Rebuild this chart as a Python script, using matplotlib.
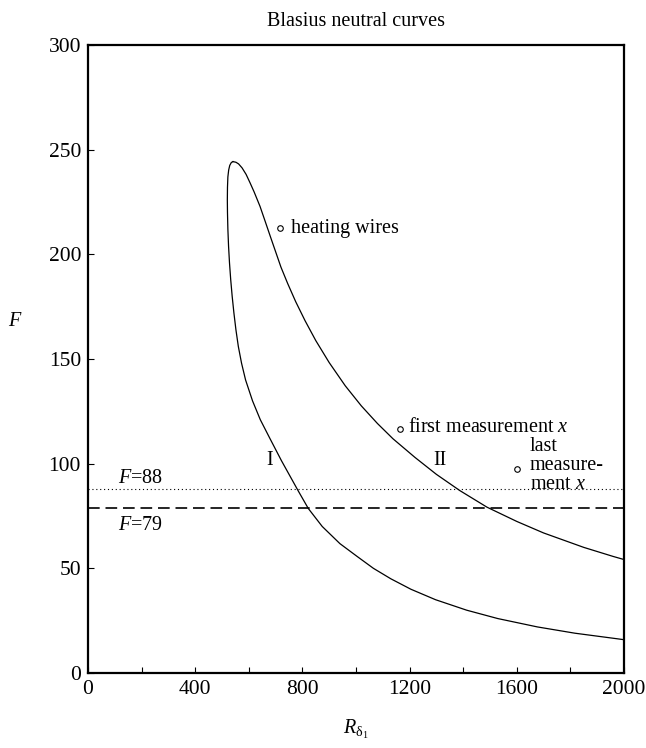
import numpy as np
import matplotlib
matplotlib.use('Agg')
import matplotlib.pyplot as plt

# haara I (alempi): huipusta kärjen kautta alas R=2000 asti
ala_R = [541, 535, 529, 525, 522, 520.5, 520, 520.5, 522, 524.5, 528, 532.5, 538,
         544.5, 552, 561, 573, 588, 614, 643, 679, 722, 784, 822, 874, 940, 1004,
         1065, 1130, 1205, 1297, 1413, 1529, 1677, 1817, 1977, 2000]
ala_F = [244.3, 243.9, 242.5, 240.3, 237, 232, 226, 220, 212, 204, 196, 188, 180,
         172, 164, 156, 148, 140, 130, 121, 112, 101.4, 87.1, 78.6, 70, 61.8, 55.7,
         50, 45, 40, 35, 30, 26, 22, 19, 16.3, 15.9]
# haara II (ylempi): huipusta R=2000 asti
yla_R = [541, 552, 562, 575, 590, 605, 620, 642, 660, 680, 700, 720, 745, 775,
         810, 850, 900, 960, 1020, 1080, 1138, 1220, 1300, 1388, 1489, 1600, 1700,
         1850, 1959, 2000]
yla_F = [244.3, 244.0, 243.2, 241.3, 238.2, 234.1, 229.8, 222.9, 216.2, 208.7,
         201.3, 193.9, 186.1, 177.4, 168.3, 158.8, 148.3, 137.2, 127.6, 119.2,
         111.9, 103, 94.9, 87.1, 79.2, 72.4, 66.9, 60, 55.7, 54.2]

# mittauspisteet
pisteet_R = [716, 1164, 1601]
pisteet_F = [212.4, 116.7, 97.6]
pisteet_nimet = ['heating wires', 'first measurement $x$', 'last\nmeasure-\nment $x$']

taajuudet = [88, 79]
xtikit = np.arange(0, 2001, 200)
ytikit = np.arange(0, 301, 50)

plt.rcParams.update({
    'font.family': ['Liberation Serif', 'DejaVu Serif'],
    'font.size': 14.5,
    'mathtext.fontset': 'custom',
    'mathtext.rm': 'Liberation Serif',
    'mathtext.it': 'Liberation Serif:italic',
    'mathtext.bf': 'Liberation Serif:bold',
})

fig = plt.figure(figsize=(6.46, 7.48), dpi=100)
ax = fig.add_axes([0.1362, 0.1003, 0.8297, 0.8395])

ax.plot(ala_R, ala_F, color='k', lw=0.9)
ax.plot(yla_R, yla_F, color='k', lw=0.9)

ax.axhline(taajuudet[0], color='k', lw=0.8, linestyle=(0, (1, 2.5)))
ax.axhline(taajuudet[1], color='k', lw=1.2, linestyle=(0, (7, 3.5)))
ax.text(112, 92.9, '$F$=%d' % taajuudet[0], va='center', ha='left')
ax.text(112, 70.5, '$F$=%d' % taajuudet[1], va='center', ha='left')

ax.plot(pisteet_R, pisteet_F, 'o', mfc='white', mec='k', ms=4, mew=0.8)
ax.text(pisteet_R[0] + 40, pisteet_F[0], pisteet_nimet[0], va='center', ha='left')
ax.text(pisteet_R[1] + 30, pisteet_F[1] + 0.5, pisteet_nimet[1], va='center', ha='left')
ax.text(pisteet_R[2] + 48, pisteet_F[2] + 1.5, pisteet_nimet[2], va='center', ha='left',
        linespacing=1.0)

ax.text(679, 101.4, 'I', va='center', ha='center')
ax.text(1313, 101.4, 'II', va='center', ha='center')

ax.set_xlim(0, 2000)
ax.set_ylim(0, 300)
ax.set_xticks(xtikit)
ax.set_xticklabels([str(t) if t % 400 == 0 else '' for t in xtikit])
ax.set_yticks(ytikit)
ax.tick_params(direction='in', length=4, width=0.8, pad=5, labelsize=15.5)
for s in ax.spines.values():
    s.set_linewidth(1.6)

ax.set_title('Blasius neutral curves', pad=14, fontsize=14.5)
ax.set_xlabel(r'$R_{\mathrm{\delta}_1}$', labelpad=14)
ax.set_ylabel('$F$', rotation=0, va='center')
ax.yaxis.set_label_coords(-0.136, 0.559)

fig.savefig('out.png', dpi=100)
